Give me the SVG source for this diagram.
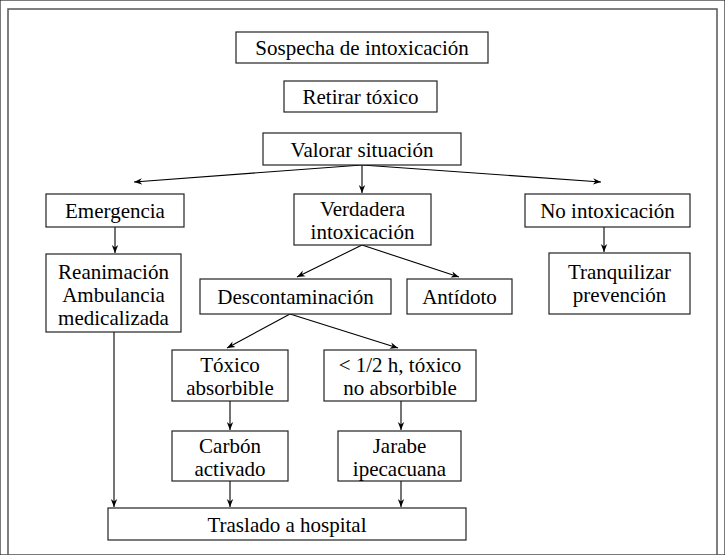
<svg xmlns="http://www.w3.org/2000/svg" width="725" height="555" viewBox="0 0 725 555">
<defs>
<marker id="ah" viewBox="0 0 10 10" refX="10" refY="5" markerWidth="8" markerHeight="8" markerUnits="userSpaceOnUse" orient="auto">
<path d="M0,1 L10,5 L0,9 L3,5 Z" fill="#000"/>
</marker>
<style>
rect{fill:#fff;stroke:#222;stroke-width:1.2}
text{font-family:"Liberation Serif","Times New Roman",serif;font-size:21px;fill:#000;text-anchor:middle}
.c line{stroke:#000;stroke-width:1.1;marker-end:url(#ah)}
</style>
</defs>
<rect width="725" height="555" fill="#fff" stroke="none"/>
<path d="M8,555 L8,9 L717,9 L717,555" fill="none" stroke="#555" stroke-width="1.5"/>
<g class="c" id="connectors">
<line x1="362" y1="165" x2="134" y2="182"/>
<line x1="362" y1="165" x2="362" y2="193"/>
<line x1="362" y1="165" x2="601" y2="182"/>
<line x1="115" y1="227" x2="115" y2="253"/>
<line x1="604" y1="227" x2="604" y2="252"/>
<line x1="362" y1="245" x2="297" y2="277"/>
<line x1="362" y1="245" x2="459" y2="277"/>
<line x1="290" y1="314" x2="227" y2="348"/>
<line x1="290" y1="314" x2="398" y2="348"/>
<line x1="230" y1="401" x2="230" y2="430"/>
<line x1="401" y1="401" x2="401" y2="430"/>
<line x1="114" y1="332" x2="114" y2="507"/>
<line x1="230" y1="481" x2="230" y2="507"/>
<line x1="401" y1="481" x2="401" y2="507"/>
</g>
<g id="sospecha"><rect x="236" y="32" width="252" height="31"/><text x="362" y="55">Sospecha de intoxicación</text></g>
<g id="retirar"><rect x="284" y="81" width="153" height="31"/><text x="360.5" y="104">Retirar tóxico</text></g>
<g id="valorar"><rect x="263" y="133" width="198" height="32"/><text x="362" y="157">Valorar situación</text></g>
<g id="emergencia"><rect x="46" y="194" width="138" height="33"/><text x="115" y="218">Emergencia</text></g>
<g id="verdadera"><rect x="294" y="194" width="137" height="51"/><text x="362.5" y="216">Verdadera</text><text x="362.5" y="239">intoxicación</text></g>
<g id="nointox"><rect x="525" y="194" width="165" height="33"/><text x="607.5" y="218">No intoxicación</text></g>
<g id="reanimacion"><rect x="46" y="254" width="135" height="78"/><text x="113.5" y="279">Reanimación</text><text x="113.5" y="302">Ambulancia</text><text x="113.5" y="325">medicalizada</text></g>
<g id="descont"><rect x="200" y="279" width="191" height="35"/><text x="295.5" y="304">Descontaminación</text></g>
<g id="antidoto"><rect x="407" y="279" width="105" height="35"/><text x="459.5" y="304">Antídoto</text></g>
<g id="tranquilizar"><rect x="549" y="253" width="141" height="61"/><text x="619.5" y="279">Tranquilizar</text><text x="619.5" y="302">prevención</text></g>
<g id="toxabs"><rect x="172" y="350" width="116" height="51"/><text x="230" y="372">Tóxico</text><text x="230" y="395">absorbible</text></g>
<g id="noabs"><rect x="324" y="350" width="152" height="51"/><text x="400" y="372">&lt; 1/2 h, tóxico</text><text x="400" y="395">no absorbible</text></g>
<g id="carbon"><rect x="172" y="431" width="116" height="50"/><text x="230" y="453">Carbón</text><text x="230" y="476">activado</text></g>
<g id="jarabe"><rect x="338" y="431" width="123" height="50"/><text x="399.5" y="453">Jarabe</text><text x="399.5" y="476">ipecacuana</text></g>
<g id="traslado"><rect x="108" y="508" width="358" height="32"/><text x="287" y="532">Traslado a hospital</text></g>
</svg>
